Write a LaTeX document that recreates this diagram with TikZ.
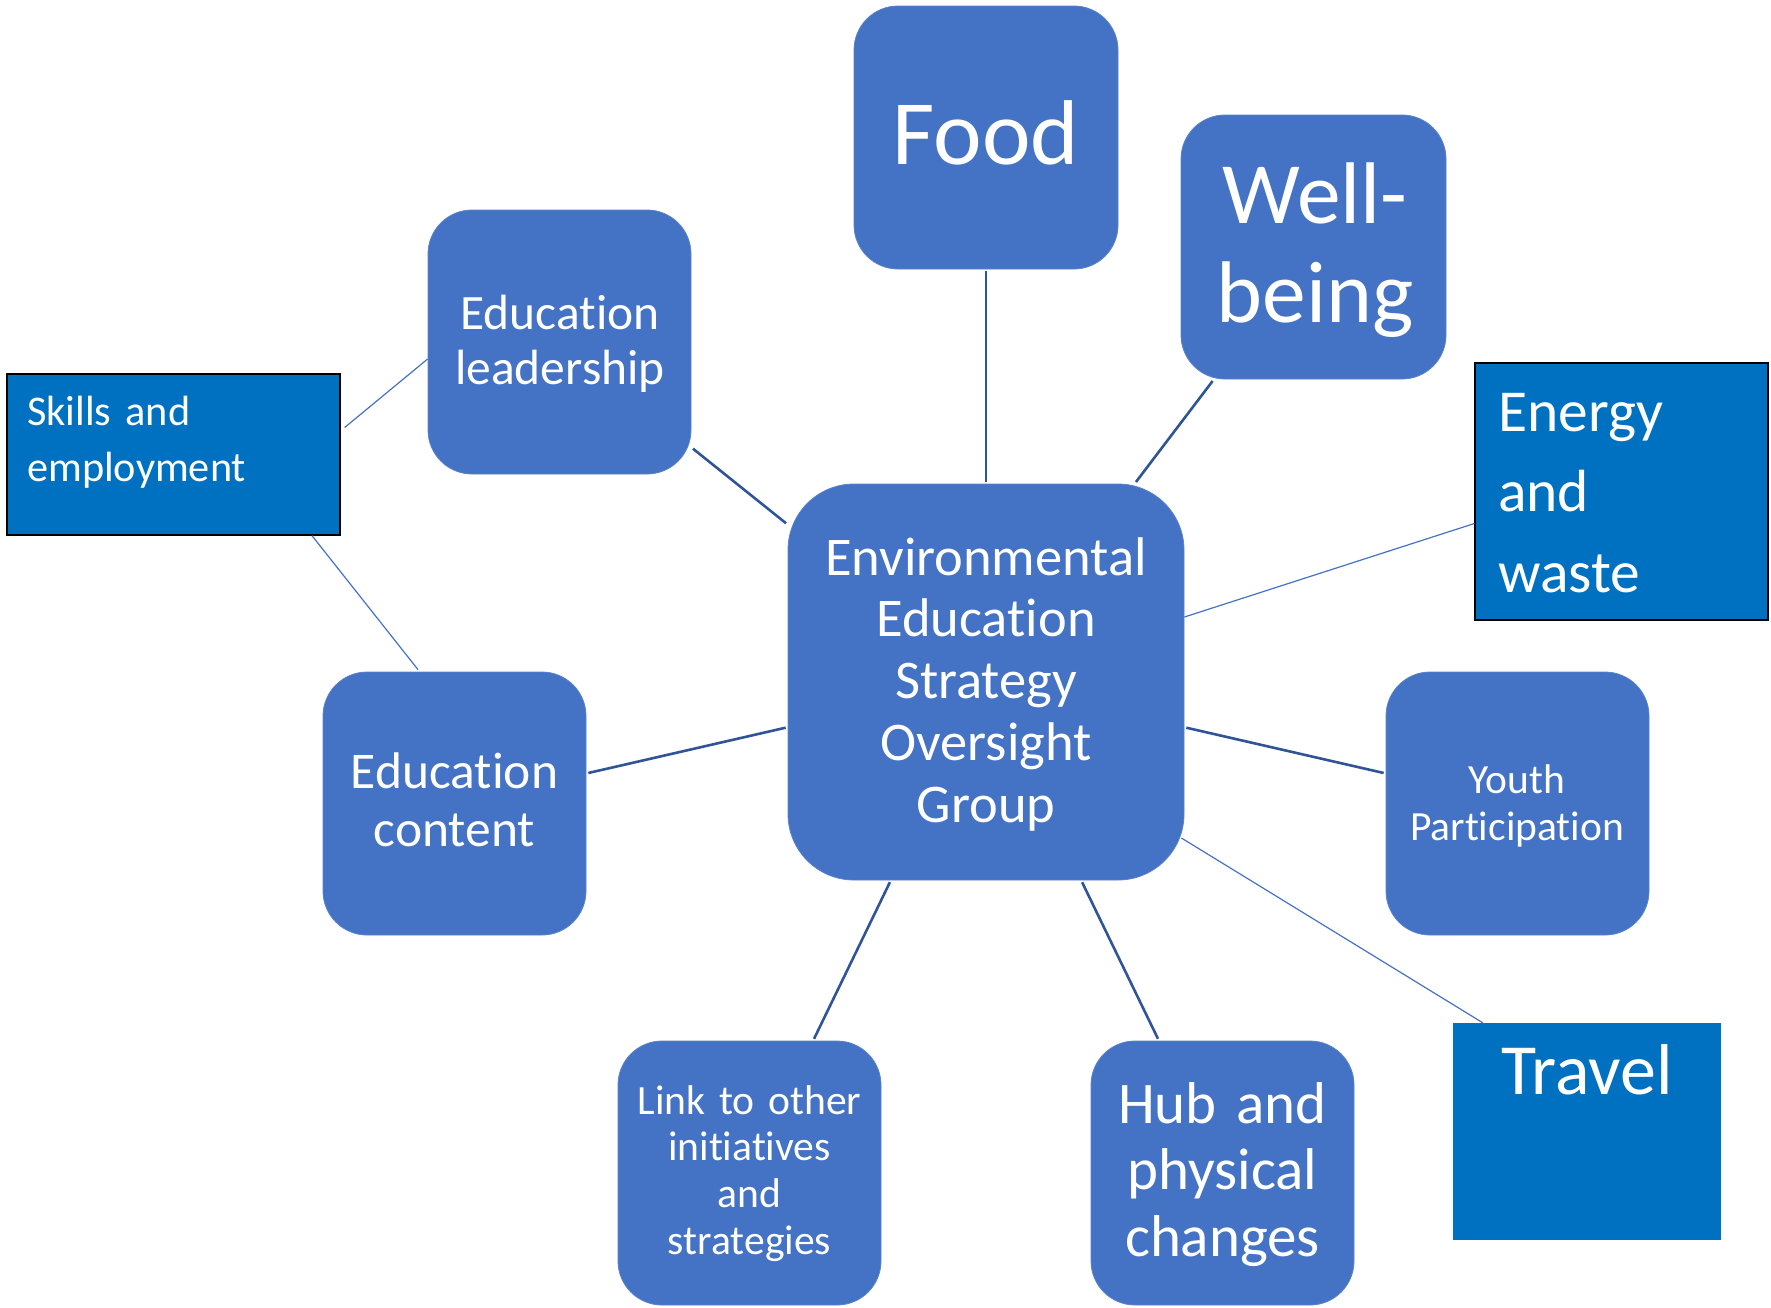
\documentclass[tikz,border=0pt]{standalone}
\usepackage{fontspec}
\setmainfont{Carlito}[Ligatures={NoCommon}]
\newcommand\myfs[2]{\fontsize{#1}{#2}\selectfont\spaceskip=0.16em\relax}
\definecolor{boxblue}{HTML}{4472C4}
\definecolor{sqblue}{HTML}{0070C0}
\definecolor{linkdark}{HTML}{2F5597}
\definecolor{linkthin}{HTML}{4472C4}
\begin{document}
\begin{tikzpicture}[x=1pt,y=-1pt,
  rbox/.style={fill=boxblue, draw=boxblue!88!white, line width=0.8pt, rounded corners=44pt, inner sep=0pt, minimum width=263pt, minimum height=263pt},
  cbox/.style={rbox, rounded corners=66pt, minimum width=396pt, minimum height=396pt},
  sbox/.style={fill=sqblue, inner sep=0pt},
  bsbox/.style={sbox, draw=black, line width=1.3pt},
  txt/.style={text=white, inner sep=0pt, anchor=base, align=center},
  ltxt/.style={text=white, inner sep=0pt, anchor=base west, align=left},
  thick/.style={draw=linkdark, line width=2.6pt, shorten >=2pt, shorten <=2pt},
  thin/.style={draw=linkthin, line width=1.2pt}
]
\useasboundingbox (0,0) rectangle (1771,1307);

% boxes
\node[rbox, minimum width=264pt] (food) at (986,137.5) {};
\node[rbox, minimum width=265pt, minimum height=264pt] (well) at (1313.5,247) {};
\node[rbox, minimum height=264pt] (lead) at (559.5,342) {};
\node[bsbox, minimum width=333pt, minimum height=161pt] (skills) at (173.5,454.5) {};
\node[bsbox, minimum width=293pt, minimum height=257pt] (energy) at (1621.5,491.5) {};
\node[cbox] (center) at (986,682) {};
\node[rbox] (content) at (454.5,803.5) {};
\node[rbox] (youth) at (1517.5,803.5) {};
\node[sbox, minimum width=268pt, minimum height=217pt] (travel) at (1587,1131.5) {};
\node[rbox, minimum height=264pt] (link) at (749.5,1173) {};
\node[rbox, minimum height=264pt] (hub) at (1222.5,1173) {};

% texts
\node[txt, text width=260pt, font=\myfs{92}{110}] (foodt) at (986,164) {Food};
\node[txt, text width=260pt, font=\myfs{87.5}{99}] (wellt) at (1315,223) {Well-\\being};
\node[txt, text width=260pt, font=\myfs{49.5}{55}] (leadt) at (560,329) {Education\\leadership};
\node[ltxt, text width=310pt, font=\myfs{42.3}{56}] (skillst) at (27,425) {Skills and\\employment};
\node[ltxt, text width=270pt, font=\myfs{59.5}{80.5}] (energyt) at (1498,431) {Energy\\and\\waste};
\node[txt, text width=390pt, font=\myfs{54.5}{61.75}] (centert) at (986,575) {Environmental\\Education\\Strategy\\Oversight\\Group};
\node[txt, text width=260pt, font=\myfs{51.5}{58.5}] (contentt) at (454.5,788) {Education\\content};
\node[txt, text width=260pt, font=\myfs{41.5}{47}] (youtht) at (1517,793) {Youth\\Participation};
\node[txt, text width=260pt, font=\myfs{72}{86}] (travelt) at (1587,1094) {Travel};
\node[txt, text width=260pt, font=\myfs{41.6}{46.7}] (linkt) at (749.5,1114) {Link to other\\initiatives\\and\\strategies};
\node[txt, text width=260pt, font=\myfs{59}{66.7}] (hubt) at (1222.5,1123) {Hub and\\physical\\changes};

% connectors
\draw[thick] (food) -- (center);
\draw[thick] (well) -- (center);
\draw[thick] (lead) -- (center);
\draw[thick] (content) -- (center);
\draw[thick] (youth) -- (center);
\draw[thick] (link) -- (center);
\draw[thick] (hub) -- (center);
\draw[thin] ([yshift=65pt]center.east) -- ([yshift=-32pt]energy.west);
\draw[thin] ([xshift=-3pt,yshift=-156pt]center.east) -- ([xshift=30pt]travel.north west);
\draw[thin] ([xshift=4pt,yshift=27pt]skills.east) -- ([yshift=-17pt]lead.west);
\draw[thin] ([xshift=138.5pt]skills.south) -- ([xshift=-36.5pt,yshift=2pt]content.north);
\end{tikzpicture}
\end{document}
